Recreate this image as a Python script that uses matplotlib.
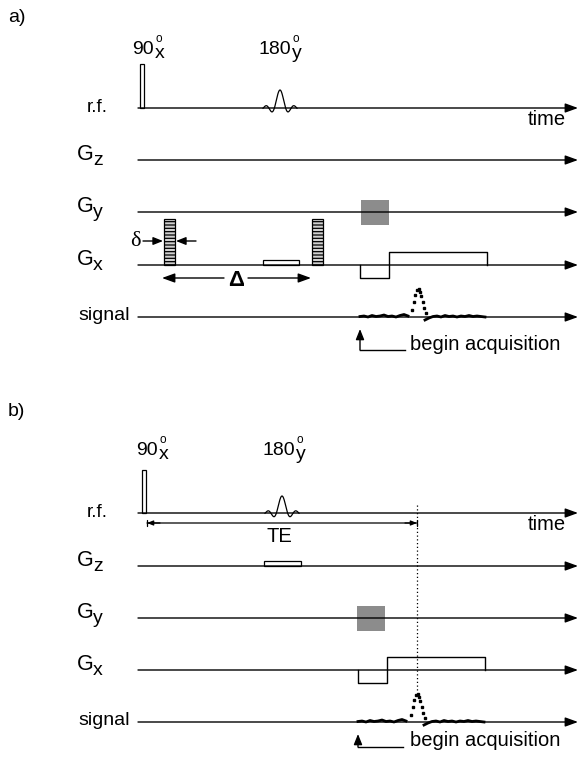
import numpy as np
import matplotlib.pyplot as plt
from matplotlib.patches import Rectangle

plt.rcParams['font.family'] = ['Liberation Sans', 'DejaVu Sans']
plt.rcParams['hatch.linewidth'] = 0.9

# --- sequence timings (time axis, same units for both panels: [a, b]) ---
row_names = ['r.f.', 'G', 'G', 'G', 'signal']
row_subs = ['', 'z', 'y', 'x', '']
row_base = [[108, 160, 212, 265, 317],       # panel a baselines
            [513, 566, 618, 670, 722]]       # panel b baselines
t0, t1 = 138, 578

p90_t = [140, 142]          # hard 90x pulse
p90_w = 4
p90_h = [44, 43]
p180_t = [280, 282]         # selective 180y pulse (sinc)
p180_h = [18, 17]

slice_t = [263, 264]        # small slice gradient under 180 pulse
slice_w = [36, 37]
slice_h = 5
slice_row = [3, 1]          # a: on Gx, b: on Gz

phase_t = [361, 357]        # phase encode block on Gy
phase_w = 28
phase_h = 25

read_t = [360, 358]         # readout gradient: dephase lobe start
read_mid = [389, 387]
read_end = [487, 485]
read_amp = [-13, 13]        # dephase, readout lobes

diff_t = [164, 312]         # diffusion gradients (panel a)
diff_w = 11
diff_h = 46

echo_t = [418, 417]
echo_dt = [-6, -4.5, -3, -1, 0.5, 2, 3, 4.5, 6, 8]
echo_amp = [7, 15, 22, 27, 28, 25, 21, 15, 9, 4]

noise_left = [0.5, 1, 0, 1.5, 0.5, 1, 2, 0.5, 1, 0, 1.5, 2.5, 1]
noise_right = [-3, -1, 0.5, 1, 0, 1.5, 0.5, 1, 0, 1, 0.5, 1.5, 0.5, 1, 0.5, 0]

acq_t = [360, 358]
te_end = 417

fig = plt.figure(figsize=(5.8, 7.6), dpi=100)
ax = fig.add_axes([0, 0, 1, 1])
ax.set_xlim(0, 580)
ax.set_ylim(760, 0)
ax.axis('off')

head = '-|>,head_length=0.55,head_width=0.2'
small = '-|>,head_length=0.45,head_width=0.18'


def arrow(x0, y0, x1, y1, style=head, ms=15, lw=1.0):
    ax.annotate('', xy=(x1, y1), xytext=(x0, y0),
                arrowprops=dict(arrowstyle=style, mutation_scale=ms, lw=lw,
                                color='k', shrinkA=0, shrinkB=0))


def sinc_pulse(tc, base, h):
    x = np.linspace(-17, 17, 200)
    ax.plot(tc + x, base - h * np.sinc(x / 5.6), color='k', lw=0.9)


def pulse_label(x, y, num, sub, w):
    # number with degree sign above and phase subscript below
    ax.text(x, y, num, fontsize=14, ha='left', va='baseline')
    ax.text(x + w + 1.5, y - 12, 'o', fontsize=8.5, ha='left', va='baseline')
    ax.text(x + w + 0.5, y + 4, sub, fontsize=14, ha='left', va='baseline')


for p in range(2):
    base = row_base[p]
    # axis lines with arrows
    for y in base:
        arrow(t0, y, t1, y, ms=14, lw=1.0)
    # row labels
    ax.text(87, base[0] + 4, row_names[0], fontsize=13.5, ha='left', va='baseline')
    for i in (1, 2, 3):
        ax.text(77, base[i], row_names[i], fontsize=15.5, ha='left', va='baseline')
        ax.text(93, base[i] + 5, row_subs[i], fontsize=14, ha='left', va='baseline')
    ax.text(78, base[4] + 3, row_names[4], fontsize=14, ha='left', va='baseline')
    ax.text(528, base[0] + 17, 'time', fontsize=14.5, ha='left', va='baseline')

    # rf pulses
    ax.add_patch(Rectangle((p90_t[p], base[0] - p90_h[p]), p90_w, p90_h[p],
                           fill=False, lw=0.9, ec='k'))
    sinc_pulse(p180_t[p], base[0], p180_h[p])
    yl = [54, 455][p]
    pulse_label([132, 136][p], yl, '90', 'x', 22)
    pulse_label([258, 262][p], yl, '180', 'y', 33)

    # slice gradient box
    yb = base[slice_row[p]]
    ax.add_patch(Rectangle((slice_t[p], yb - slice_h), slice_w[p], slice_h,
                           fill=False, lw=0.9, ec='k'))

    # phase encode block
    ax.add_patch(Rectangle((phase_t[p], base[2] - phase_h / 2), phase_w, phase_h,
                           fc='#8c8c8c', ec='none'))

    # readout gradient
    yg = base[3]
    xs = [read_t[p], read_t[p], read_mid[p], read_mid[p], read_end[p], read_end[p]]
    ys = [yg, yg - read_amp[0], yg - read_amp[0], yg - read_amp[1], yg - read_amp[1], yg]
    ax.plot(xs, ys, color='k', lw=1.0)

    # signal: noise + echo
    ys0 = base[4]
    xl = acq_t[p] + 4 * np.arange(len(noise_left))
    ax.plot(xl, ys0 - np.array(noise_left), color='k', lw=2.0)
    xr = echo_t[p] + 7 + 4 * np.arange(len(noise_right))
    ax.plot(xr, ys0 - np.array(noise_right), color='k', lw=2.0)
    ax.plot(echo_t[p] + np.array(echo_dt), ys0 - np.array(echo_amp), 's',
            color='k', ms=1.8)

    # begin acquisition
    ya = [350, 747][p]
    arrow(acq_t[p], ya, acq_t[p], ys0 + 12, style=small, ms=14, lw=1.0)
    ax.plot([acq_t[p], acq_t[p] + 45], [ya, ya], color='k', lw=1.0)
    ax.text(410, ya - 6, 'begin acquisition', fontsize=14.5, ha='left', va='center')

# panel a: diffusion gradients
yg = row_base[0][3]
for t in diff_t:
    ax.add_patch(Rectangle((t, yg - diff_h), diff_w, diff_h, fc='#d0d0d0',
                           ec='k', lw=0.9, hatch='-----'))
ax.text(135, 241, 'δ', fontsize=16, ha='center', va='center',
        family=['Liberation Serif', 'DejaVu Serif'])
arrow(143, 241, 163, 241, style=small, ms=13)
arrow(196, 241, 176, 241, style=small, ms=13)
arrow(224, 278, 162, 278, ms=14)
arrow(248, 278, 311, 278, ms=14)
ax.text(236, 280, 'Δ', fontsize=16, ha='center', va='center', fontweight='bold')

# panel b: TE and echo line
ax.annotate('', xy=(te_end, 523), xytext=(p90_t[1] + 5, 523),
            arrowprops=dict(arrowstyle='|-|,widthA=0.2,widthB=0.2', lw=0.9,
                            color='k', shrinkA=0, shrinkB=0))
arrow(160, 523, p90_t[1] + 5, 523, style=small, ms=8, lw=0.9)
arrow(te_end - 12, 523, te_end, 523, style=small, ms=8, lw=0.9)
ax.text(279, 537, 'TE', fontsize=14.5, ha='center', va='center')
ax.plot([te_end, te_end], [505, 692], color='k', lw=0.9, ls=(0, (1, 2)))

ax.text(8, 18, 'a)', fontsize=14, ha='left', va='center')
ax.text(8, 412, 'b)', fontsize=14, ha='left', va='center')

fig.savefig('out.png', dpi=100)
